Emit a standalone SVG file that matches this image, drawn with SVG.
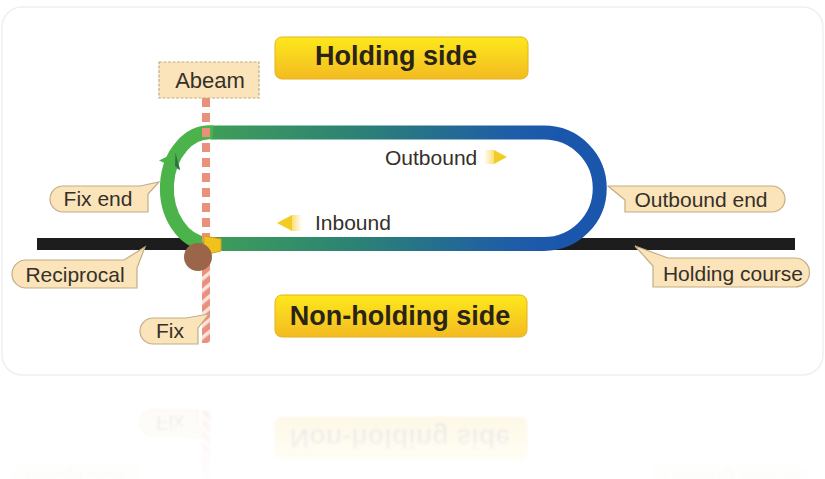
<svg xmlns="http://www.w3.org/2000/svg" xmlns:xlink="http://www.w3.org/1999/xlink" width="825" height="479" viewBox="0 0 825 479">
<style>
.lbl{font-family:"Liberation Sans",Arial,sans-serif;font-size:21px;fill:#35302a;text-anchor:middle}
.big{font-family:"Liberation Sans",Arial,sans-serif;font-size:27px;font-weight:bold;fill:#2a2418;text-anchor:middle}
.call{fill:#fbe4b9;stroke:#c2ad86;stroke-width:1.2}
.side{fill:url(#yel);stroke:#e6b21a;stroke-width:1}
.trk{fill:none;stroke-width:14}
</style>
<defs>
<linearGradient id="yel" x1="0" y1="0" x2="0" y2="1">
<stop offset="0" stop-color="#fde81c"/><stop offset="1" stop-color="#f3bb22"/>
</linearGradient>
<linearGradient id="trkg" gradientUnits="userSpaceOnUse" x1="205" y1="0" x2="560" y2="0">
<stop offset="0" stop-color="#3f9f57"/><stop offset="0.45" stop-color="#2b8077"/><stop offset="0.85" stop-color="#1f5ea6"/><stop offset="1" stop-color="#1b56ad"/>
</linearGradient>
<linearGradient id="tailR" x1="0" y1="0" x2="1" y2="0">
<stop offset="0" stop-color="#f6d23a" stop-opacity="0"/><stop offset="1" stop-color="#f6d23a" stop-opacity="0.7"/>
</linearGradient>
<linearGradient id="tailL" x1="1" y1="0" x2="0" y2="0">
<stop offset="0" stop-color="#f6d23a" stop-opacity="0"/><stop offset="1" stop-color="#f6d23a" stop-opacity="0.7"/>
</linearGradient>
<pattern id="stripe" patternUnits="userSpaceOnUse" width="9" height="9" patternTransform="rotate(-40)">
<rect width="9" height="9" fill="#e9917d"/><rect width="9" height="3.5" fill="#fbe3dc"/>
</pattern>
<linearGradient id="fade" x1="0" y1="0" x2="0" y2="1">
<stop offset="0" stop-color="#ffffff" stop-opacity="0"/><stop offset="1" stop-color="#ffffff" stop-opacity="0.9"/>
</linearGradient>
<filter id="soft"><feGaussianBlur stdDeviation="1.2"/></filter>
</defs>

<rect x="0" y="0" width="825" height="479" fill="#ffffff"/>
<rect x="2" y="7" width="821" height="368" rx="20" fill="#ffffff" stroke="#efefef" stroke-width="1.5"/>

<g id="holding-side">
<rect x="275" y="37" width="253" height="42" rx="7" class="side"/>
<text x="396" y="65" class="big">Holding side</text>
</g>

<g id="holding-course-line">
<rect x="37" y="238" width="758" height="12" fill="#1d1d1d"/>
</g>

<g id="racetrack">
<path class="trk" stroke="url(#trkg)" d="M 211 132.5 L 544 132.5 A 55.75 55.75 0 0 1 544 244 L 207 244"/>
<path class="trk" stroke="#4cb34a" d="M 213 132.5 A 43 55.75 0 0 0 207 244"/>
<polygon points="175.5,152.5 180,170 159,160.5" fill="#4cb34a"/>
<polygon points="175.5,152.5 180,170 175,166" fill="#2f6f46"/>
</g>

<g id="outbound">
<text x="385" y="165" class="lbl" style="text-anchor:start">Outbound</text>
<rect x="484" y="150" width="10" height="14" fill="url(#tailR)"/>
<polygon points="494,150 507,157 494,164" fill="#f3cc23"/>
</g>

<g id="inbound">
<text x="315" y="230" class="lbl" style="text-anchor:start">Inbound</text>
<rect x="292" y="215" width="10" height="16" fill="url(#tailL)"/>
<polygon points="292,215 277,223 292,231" fill="#f3cc23"/>
</g>

<g id="abeam-line">
<line x1="206" y1="98" x2="206" y2="262" stroke="#e9917d" stroke-width="8" stroke-dasharray="9 6"/>
<rect x="202" y="262" width="8" height="81" fill="url(#stripe)"/>
</g>

<g id="fix-point">
<path d="M 204 236 L 221 239 L 221 251 L 204 255 Z" fill="#f1c21e" stroke="#d9a216" stroke-width="1"/>
<circle cx="198" cy="257" r="14" fill="#9a6548"/>
</g>

<g id="abeam">
<rect x="159" y="62" width="100" height="36" fill="#fbe4b9" stroke="#c2ad86" stroke-width="1.2" stroke-dasharray="3 1.5"/>
<text x="210" y="88" class="lbl" style="font-size:22px">Abeam</text>
</g>

<g id="fix-end">
<path class="call" d="M 63 186 L 140 186 L 159 182 L 148 194 L 148 212 L 63 212 A 13 13 0 0 1 63 186 Z"/>
<text x="98" y="206" class="lbl">Fix end</text>
</g>

<g id="reciprocal">
<path class="call" d="M 26 260 L 124 260 L 145 247 L 137 268 L 137 288 L 26 288 A 14 14 0 0 1 26 260 Z"/>
<text x="75" y="282" class="lbl">Reciprocal</text>
</g>

<g id="fix">
<path class="call" d="M 153 318 L 186 318 L 209 314 L 198 328 L 198 344 L 153 344 A 13 13 0 0 1 153 318 Z"/>
<text x="170" y="338" class="lbl">Fix</text>
</g>

<g id="outbound-end">
<path class="call" d="M 625 200 L 608 186 L 632 186 L 772 186 A 13 13 0 0 1 772 212 L 625 212 Z"/>
<text x="701" y="207" class="lbl">Outbound end</text>
</g>

<g id="holding-course">
<path class="call" d="M 653 287 L 653 266 L 635 246 L 668 258 L 795 258 A 14.5 14.5 0 0 1 795 287 Z"/>
<text x="733" y="281" class="lbl">Holding course</text>
</g>

<g id="non-holding-side">
<rect x="275" y="295" width="252" height="42" rx="7" class="side"/>
<text x="400" y="325" class="big">Non-holding side</text>
</g>

<g id="reflection" transform="matrix(1 0 0 -1 0 754)" opacity="0.16" filter="url(#soft)">
<use xlink:href="#non-holding-side"/>
<use xlink:href="#fix"/>
<rect x="202" y="262" width="8" height="81" fill="url(#stripe)"/>
<use xlink:href="#reciprocal"/>
<use xlink:href="#holding-course"/>
</g>
<rect x="0" y="378" width="825" height="101" fill="url(#fade)"/>
</svg>
